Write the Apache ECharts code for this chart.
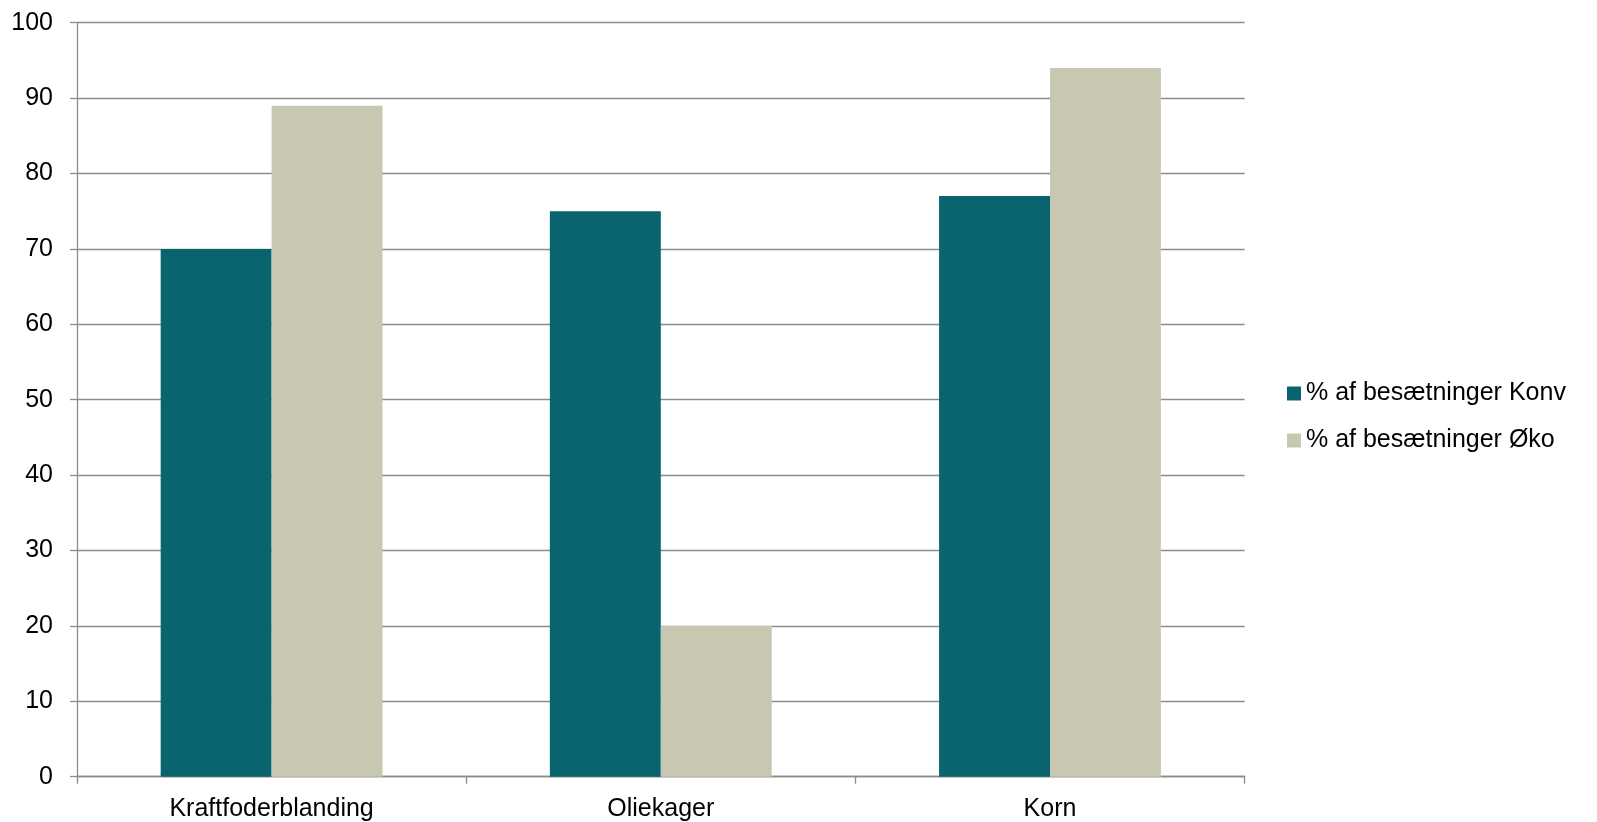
<!DOCTYPE html>
<html>
<head>
<meta charset="utf-8">
<script src="https://cdn.jsdelivr.net/npm/echarts@6/dist/echarts.min.js"></script>
<style>
html,body{margin:0;padding:0;background:#fff;}
#chart{width:1597px;height:822px;}
</style>
</head>
<body>
<div id="chart"></div>
<script>
const categories = ['Kraftfoderblanding', 'Oliekager', 'Korn'];
const seriesNames = ['% af besætninger Konv', '% af besætninger Øko'];
const konvValues = [70, 75, 77];
const oekoValues = [89, 20, 94];

const FONT = '"Liberation Sans", Arial, sans-serif';
const FS = 25;
const chart = echarts.init(document.getElementById('chart'), null, {renderer: 'canvas'});
chart.setOption({
  animation: false,
  backgroundColor: '#ffffff',
  textStyle: {fontFamily: FONT, color: '#000'},
  grid: {left: 77, top: 22.7, right: 352.4, bottom: 45.3, containLabel: false},
  legend: {
    orient: 'vertical',
    left: 1287,
    top: 381,
    padding: 0,
    itemWidth: 14,
    itemHeight: 14,
    itemGap: 22,
    icon: 'rect',
    textStyle: {fontFamily: FONT, fontSize: FS, color: '#000'},
    data: seriesNames
  },
  xAxis: {
    type: 'category',
    data: categories,
    axisLine: {lineStyle: {color: '#8c8c8c', width: 1.3}},
    axisTick: {show: true, length: 7, lineStyle: {color: '#8c8c8c', width: 1.3}},
    axisLabel: {fontFamily: FONT, fontSize: FS, color: '#000', margin: 20}
  },
  yAxis: {
    type: 'value',
    min: 0, max: 100, interval: 10,
    axisLine: {show: true, lineStyle: {color: '#8c8c8c', width: 1.3}},
    axisTick: {show: true, length: 7, lineStyle: {color: '#8c8c8c', width: 1.3}},
    splitLine: {show: true, lineStyle: {color: '#8c8c8c', width: 1.3}},
    axisLabel: {fontFamily: FONT, fontSize: FS, color: '#000', margin: 24}
  },
  series: [
    {name: seriesNames[0], type: 'bar', data: konvValues, barGap: '0%', barCategoryGap: '43%',
     itemStyle: {color: '#0a6470'}},
    {name: seriesNames[1], type: 'bar', data: oekoValues, barGap: '0%', barCategoryGap: '43%',
     itemStyle: {color: '#c8c8b2'}}
  ]
});
</script>
</body>
</html>
